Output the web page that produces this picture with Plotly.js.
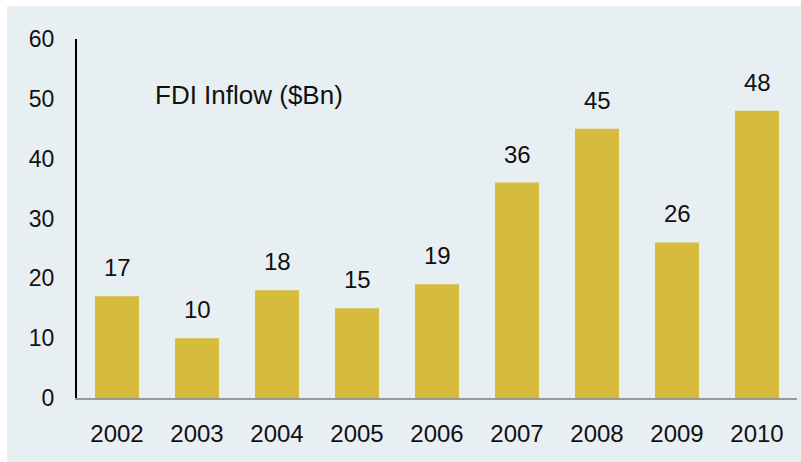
<!DOCTYPE html>
<html><head><meta charset="utf-8">
<script src="https://cdn.plot.ly/plotly-3.0.1.min.js"></script>
<style>html,body{margin:0;padding:0;background:#fff}#c{width:801px;height:462px}</style>
</head><body><div id="c"></div>
<script>
const years = ['2002','2003','2004','2005','2006','2007','2008','2009','2010'];
const fdi = [17, 10, 18, 15, 19, 36, 45, 26, 48];
const yTicks = [0, 10, 20, 30, 40, 50, 60];
const chartLabel = 'FDI Inflow ($Bn)';

const font = {family: 'Liberation Sans, Arial, sans-serif', size: 24, color: '#111'};
const yfont = {family: 'Liberation Sans, Arial, sans-serif', size: 23, color: '#111'};
const tfont = {family: 'Liberation Sans, Arial, sans-serif', size: 26, color: '#111'};

const annotations = years.map((y, i) => ({
  x: y, y: fdi[i], xref: 'x', yref: 'y', text: String(fdi[i]),
  showarrow: false, yanchor: 'bottom', yshift: 13, font: font
}));
annotations.push({
  xref: 'paper', yref: 'paper', x: 0.106, y: 0.845, xanchor: 'left', yanchor: 'middle',
  text: chartLabel, showarrow: false, font: tfont
});

Plotly.newPlot('c', [{
  type: 'bar', x: years, y: fdi,
  marker: {color: '#d6bb3d'}, hoverinfo: 'none'
}], {
  width: 801, height: 462,
  margin: {l: 77, r: 4, t: 39, b: 64},
  paper_bgcolor: '#ffffff', plot_bgcolor: 'rgba(0,0,0,0)',
  bargap: 0.45,
  font: font,
  showlegend: false,
  shapes: [{type: 'rect', xref: 'paper', yref: 'paper', x0: -0.0972, x1: 1.01, y0: -0.2, y1: 1.092,
    fillcolor: '#e8eff3', line: {width: 0}, layer: 'below'}],
  xaxis: {showgrid: false, zeroline: false, showline: true, linecolor: '#999999', linewidth: 2,
    ticks: '', ticklabelstandoff: 13, tickfont: font},
  yaxis: {range: [0, 60], tickvals: yTicks, showgrid: false, zeroline: false, showline: true,
    linecolor: '#000000', linewidth: 2, ticks: '', ticklabelstandoff: 16, tickfont: yfont},
  annotations: annotations
}, {staticPlot: true});
</script></body></html>
